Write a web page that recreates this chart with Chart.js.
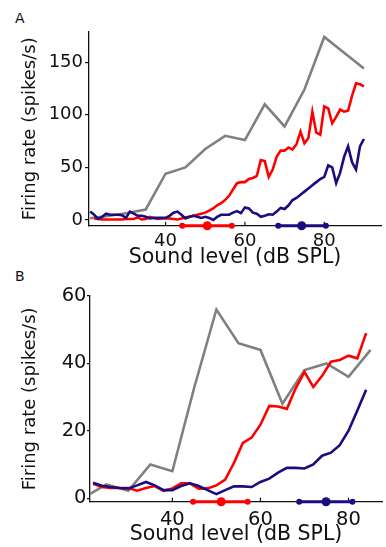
<!DOCTYPE html>
<html>
<head>
<meta charset="utf-8">
<script src="https://cdn.jsdelivr.net/npm/chart.js@4"></script>
<style>
  body { margin: 0; background: #fff; width: 386px; height: 547px; position: relative; overflow: hidden; }
  canvas { position: absolute; left: 0; }
  #chartA { top: 0; }
  #chartB { top: 270px; }
  .panel { position: absolute; left: 15px; font: 14px "DejaVu Sans"; color: #111; line-height: 1; }
</style>
</head>
<body>
<div class="panel" style="top:11px">A</div>
<div class="panel" style="top:269px">B</div>
<canvas id="chartA" width="386" height="270"></canvas>
<canvas id="chartB" width="386" height="277"></canvas>
<script>
// ---- panel A ----
const aGrayLevels = [21, 25, 30, 35, 40, 45, 50, 55, 60, 65, 70, 75, 80, 85, 90];
const aGrayRates = [1.6, 3.5, 6.5, 10, 44, 50, 67.5, 80, 76, 110, 89, 124, 174, 159, 144];

const aLevels = [22, 23, 24, 25, 26, 27, 28, 29, 30, 31, 32, 33, 34, 35, 36, 37, 38, 39, 40,
  41, 42, 43, 44, 45, 46, 47, 48, 49, 50, 51, 52, 53, 54, 55, 56, 57, 58, 59, 60,
  61, 62, 63, 64, 65, 66, 67, 68, 69, 70, 71, 72, 73, 74, 75, 76, 77, 78, 79, 80,
  81, 82, 83, 84, 85, 86, 87, 88, 89, 90];
const aRedRates = [1.5, 1, 0.5, 0.5, 0.5, 0.5, 0.5, 0.5, 1, 1, 1, 2.5, 0.5, 1, 3, 2, 1, 1.5, 1.5,
  1.5, 1, 0.5, 1.5, 2.5, 3, 4, 5, 6, 7, 9, 11, 14, 16, 19, 23, 29, 35, 36, 36,
  39, 40, 42, 57, 56, 41, 48, 60, 66, 66, 69, 67, 72, 84, 73, 78, 103, 83, 81, 108,
  106, 92, 98, 105, 103, 104, 118, 130, 129, 127];
const aBlueRates = [5, 1, 3, 6, 5, 5, 5, 4.5, 2, 8, 6, 4, 4, 3, 1.5, 2, 2, 2, 2,
  4, 7, 8, 5, 1.5, 3, 4, 3, 2, 3, 2, 0, 3, 5, 5, 5, 7, 8.5, 6.5, 12,
  11, 7, 6, 3, 4, 5.5, 5, 8, 11.5, 10.5, 14, 19, 21, 24, 27, 30, 33, 36, 39, 41,
  52, 50, 35, 45, 60, 70, 55, 48, 70, 77];
const aBlueStart = [21, 8];

const aRedBar = [44.2, 50.5, 56.7];
const aBlueBar = [68.4, 74.3, 80.4];
const aXRange = [20.7, 94.3];
const aYRange = [-5.5, 179];
const aXTicks = [40, 60, 80];
const aYTicks = [0, 50, 100, 150];

// ---- panel B ----
const bGrayLevels = [21, 25, 30, 35, 40, 45, 50, 55, 60, 65, 70, 75, 80, 85];
const bGrayRates = [1, 4.1, 2.2, 10, 8, 33, 56, 46, 44, 28, 38, 40, 36, 44];

const bLevels = [22, 24, 26, 28, 30, 32, 34, 36, 38, 40, 42, 44, 46, 48, 50, 52, 54,
  56, 58, 60, 62, 64, 66, 68, 70, 72, 74, 76, 78, 80, 82, 84];
const bRedRates = [4.3, 3.3, 3, 3, 3, 2.2, 3, 3.6, 2.2, 2.9, 4.4, 4.4, 2.8, 2.9, 3.8, 5.5, 10.5,
  16.4, 18, 21.8, 27.4, 27.2, 26.5, 32.6, 37.5, 33, 36.3, 40.5, 41, 42.3, 41.5, 49];
const bBlueRates = [4.6, 3.7, 3.3, 3, 2.9, 3.8, 4.8, 3.8, 2.4, 2.4, 3.6, 4.4, 3.6, 2.4, 1.2, 2.4, 3.5,
  3.5, 3.3, 4.8, 5.8, 7.6, 9, 9, 8.8, 10, 12.6, 13.5, 15.7, 20, 26, 32.2];

const bRedBar = [44.7, 51.1, 57.1];
const bBlueBar = [68.8, 74.9, 80.9];
const bXRange = [21.3, 87.6];
const bYRange = [-1.05, 60];
const bXTicks = [40, 60, 80];
const bYTicks = [0, 20, 40, 60];

const RED = '#ff0000';
const BLUE = '#1a0d80';
const GRAY = '#808080';
const FONT = 'DejaVu Sans';

function pts(xs, ys) {
  return xs.map((x, i) => ({ x: x, y: ys[i] }));
}

function lineSet(data, color) {
  return { data: data, borderColor: color, borderWidth: 2.6, pointRadius: 0, tension: 0, fill: false };
}

function barSet(levels, y, color) {
  return {
    data: levels.map(x => ({ x: x, y: y })),
    borderColor: color, backgroundColor: color, borderWidth: 3,
    pointRadius: [3, 4.5, 3], pointBorderWidth: 0, tension: 0, clip: false
  };
}

// small inward ticks on the x axis
const innerTicks = {
  id: 'innerTicks',
  beforeDatasetsDraw(chart) {
    const sx = chart.scales.x;
    const ctx = chart.ctx;
    const bottom = chart.chartArea.bottom;
    ctx.save();
    ctx.strokeStyle = '#111';
    ctx.lineWidth = 1.2;
    sx.ticks.forEach(t => {
      const px = sx.getPixelForValue(t.value);
      ctx.beginPath();
      ctx.moveTo(px, bottom);
      ctx.lineTo(px, bottom - 4);
      ctx.stroke();
    });
    ctx.restore();
  }
};

function makeChart(id, cfg) {
  return new Chart(document.getElementById(id), {
    type: 'line',
    data: { datasets: cfg.datasets },
    options: {
      responsive: false,
      animation: false,
      layout: { padding: { top: cfg.top, right: cfg.right, left: 0, bottom: 0 } },
      plugins: { legend: { display: false }, tooltip: { enabled: false } },
      scales: {
        x: {
          type: 'linear',
          min: cfg.xRange[0], max: cfg.xRange[1],
          afterBuildTicks: s => { s.ticks = cfg.xTicks.map(v => ({ value: v })); },
          afterFit: s => { s.height = cfg.xHeight; },
          grid: { display: false, drawTicks: false, tickLength: 0 },
          border: { display: true, color: '#111', width: 1.3 },
          ticks: { color: '#111', font: { family: FONT, size: cfg.tickSize }, padding: cfg.xPad, maxRotation: 0 },
          title: { display: true, text: 'Sound level (dB SPL)', color: '#111', font: { family: FONT, size: 20.5 }, padding: 0 }
        },
        y: {
          min: cfg.yRange[0], max: cfg.yRange[1],
          afterBuildTicks: s => { s.ticks = cfg.yTicks.map(v => ({ value: v })); },
          afterFit: s => { s.width = cfg.yWidth; },
          grid: { drawOnChartArea: false, drawTicks: true, tickLength: cfg.tickLen, color: '#111', lineWidth: 1.2 },
          border: { display: true, color: '#111', width: 1.3 },
          ticks: { color: '#111', font: { family: FONT, size: cfg.tickSize }, padding: cfg.yPad },
          title: { display: true, text: 'Firing rate (spikes/s)', color: '#111', font: { family: FONT, size: 18 }, padding: { top: 19.4, bottom: 0 } }
        }
      }
    },
    plugins: [innerTicks]
  });
}

makeChart('chartA', {
  datasets: [
    barSet(aRedBar, aYRange[0], RED),
    barSet(aBlueBar, aYRange[0], BLUE),
    lineSet([{ x: aBlueStart[0], y: aBlueStart[1] }].concat(pts(aLevels, aBlueRates)), BLUE),
    lineSet(pts(aLevels, aRedRates), RED),
    lineSet(pts(aGrayLevels, aGrayRates), GRAY)
  ],
  xRange: aXRange, yRange: aYRange, xTicks: aXTicks, yTicks: aYTicks,
  top: 31.7, right: 5, xHeight: 44.2, yWidth: 89,
  tickSize: 18, tickLen: 4, xPad: 5, yPad: 2
});

makeChart('chartB', {
  datasets: [
    barSet(bRedBar, bYRange[0], RED),
    barSet(bBlueBar, bYRange[0], BLUE),
    lineSet(pts(bLevels, bBlueRates), BLUE),
    lineSet(pts(bLevels, bRedRates), RED),
    lineSet(pts(bGrayLevels, bGrayRates), GRAY)
  ],
  xRange: bXRange, yRange: bYRange, xTicks: bXTicks, yTicks: bYTicks,
  top: 26, right: 3, xHeight: 45.3, yWidth: 90,
  tickSize: 19.5, tickLen: 3, xPad: 7, yPad: 0.5
});
</script>
</body>
</html>
